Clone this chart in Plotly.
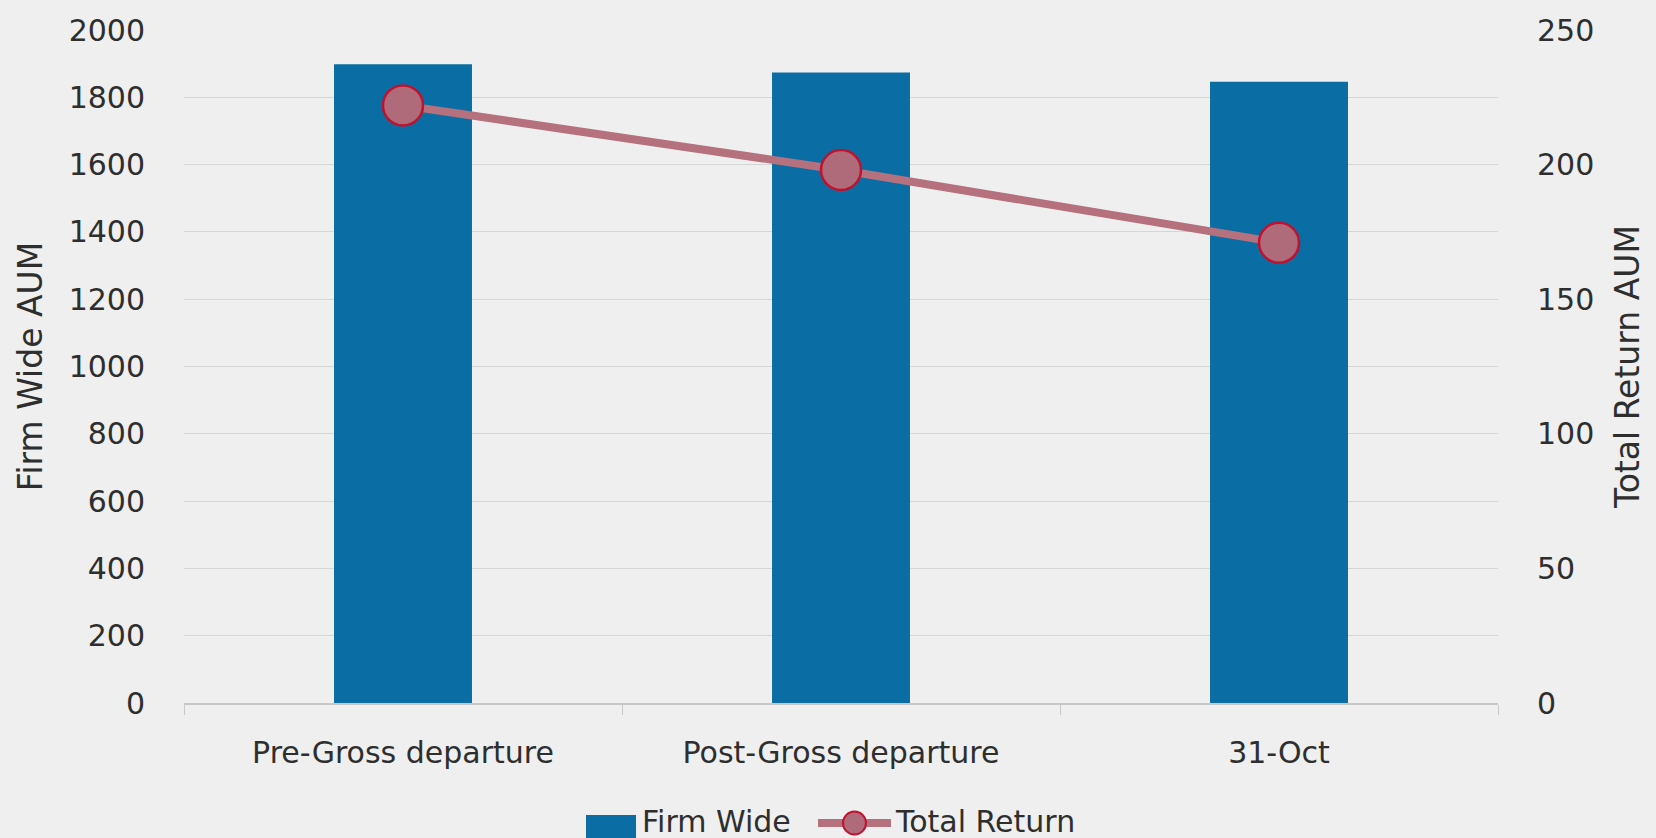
import plotly.graph_objects as go

categories = ["Pre-Gross departure", "Post-Gross departure", "31-Oct"]
firm_wide = [1898, 1874, 1846]
total_return = [222, 198, 171]
left_ticks = [0, 200, 400, 600, 800, 1000, 1200, 1400, 1600, 1800, 2000]
right_ticks = [0, 50, 100, 150, 200, 250]

FONT = "DejaVu Sans"
TXT = "#2e2e2e"
BAR = "#0a6ea5"
LINE = "#b5717d"
MFILL = "#b06b7b"
MEDGE = "#c0122e"

# plot area in pixels
L, R, T, B = 184, 1498, 30, 703
W, H = 1656, 838


def px(x):
    return (x - L) / (R - L)


def py(y):
    return (B - y) / (B - T)


fig = go.Figure()
fig.add_trace(go.Bar(
    x=categories, y=firm_wide, name="Firm Wide",
    marker=dict(color=BAR, line=dict(width=0)),
    width=0.315, yaxis="y", showlegend=False,
))
fig.add_trace(go.Scatter(
    x=categories, y=total_return, name="Total Return",
    mode="lines+markers", yaxis="y2", showlegend=False,
    line=dict(color=LINE, width=8),
    marker=dict(size=40, color=MFILL, line=dict(color=MEDGE, width=2.5)),
))

# custom legend (symbols + text)
ly = 821
shapes = [
    dict(type="rect", xref="paper", yref="paper",
         x0=px(586), x1=px(636), y0=py(838), y1=py(815),
         fillcolor=BAR, line=dict(width=0), layer="above"),
    dict(type="line", xref="paper", yref="paper",
         x0=px(818), x1=px(891), y0=py(ly + 2), y1=py(ly + 2),
         line=dict(color=LINE, width=8), layer="above"),
    dict(type="circle", xref="paper", yref="paper",
         x0=px(843), x1=px(866), y0=py(ly + 13.5), y1=py(ly - 9.5),
         fillcolor=MFILL, line=dict(color=MEDGE, width=2), layer="above"),
]
annotations = [
    dict(text="Firm Wide", xref="paper", yref="paper", x=px(640), y=py(ly),
         xanchor="left", yanchor="middle", showarrow=False,
         font=dict(family=FONT, size=30, color=TXT)),
    dict(text="Total Return", xref="paper", yref="paper", x=px(893), y=py(ly),
         xanchor="left", yanchor="middle", showarrow=False,
         font=dict(family=FONT, size=30, color=TXT)),
]

fig.update_layout(
    width=W, height=H,
    margin=dict(l=L, r=W - R, t=T, b=H - B, autoexpand=False),
    paper_bgcolor="#efefef", plot_bgcolor="#efefef",
    font=dict(family=FONT, size=30, color=TXT),
    showlegend=False,
    shapes=shapes, annotations=annotations,
    xaxis=dict(
        showgrid=False, showline=True, linecolor="#c8c8c8", linewidth=1.5,
        ticks="outside", tickson="boundaries", ticklen=10, tickcolor="#c8c8c8",
        tickfont=dict(size=30, color=TXT), ticklabelstandoff=22,
    ),
    yaxis=dict(
        range=[0, 2000], tickvals=left_ticks, showgrid=True, gridcolor="#d6d6d6",
        gridwidth=1.2, zeroline=False, showline=False,
        title=dict(text="Firm Wide AUM", font=dict(size=33, color=TXT), standoff=16),
        tickfont=dict(size=30, color=TXT), ticklabelstandoff=38,
    ),
    yaxis2=dict(
        range=[0, 250], tickvals=right_ticks, overlaying="y", side="right",
        showgrid=False, zeroline=False, showline=False,
        title=dict(text="Total Return AUM", font=dict(size=33, color=TXT), standoff=22),
        tickfont=dict(size=30, color=TXT), ticklabelstandoff=38,
    ),
    bargap=0.685,
)

fig.write_html("out.html")
